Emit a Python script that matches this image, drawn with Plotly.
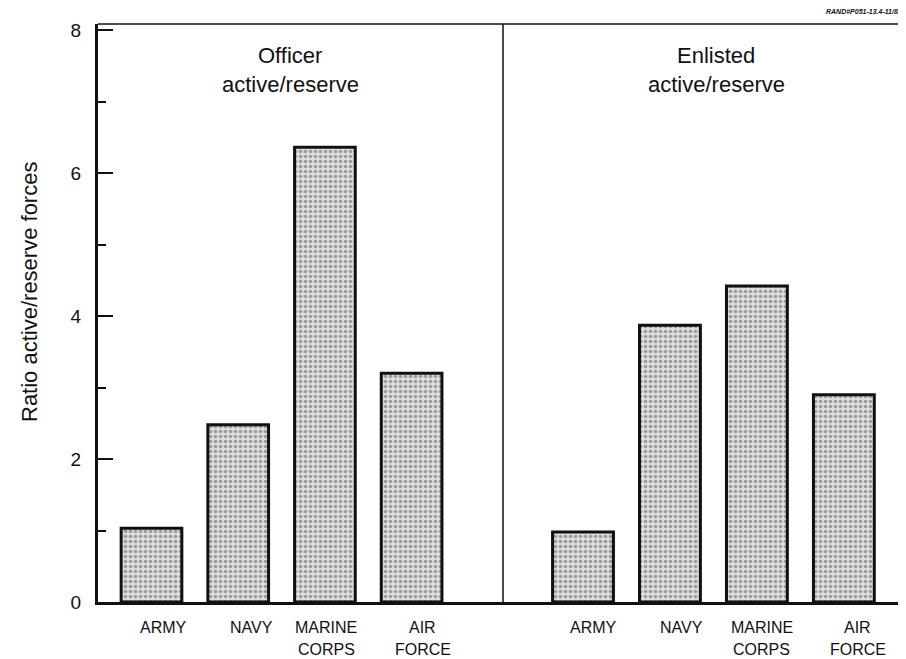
import plotly.graph_objects as go

# ---- data ----
categories = ["ARMY", "NAVY", "MARINE CORPS", "AIR FORCE"]
officer_ratio = [1.03, 2.48, 6.36, 3.20]
enlisted_ratio = [0.98, 3.87, 4.42, 2.90]
y_ticks = [0, 2, 4, 6, 8]
officer_title = ["Officer", "active/reserve"]
enlisted_title = ["Enlisted", "active/reserve"]
y_title = "Ratio active/reserve forces"
stamp = "RAND#P051-13.4-11/82"

# ---- layout helpers (positions, not data) ----
OFF = 8                                   # page body margin
W, H = 906 - OFF, 659 - OFF
L, R, T, B = 98 - OFF, 3, 24 - OFF, 57
PW = W - L - R
PH = H - T - B
split = (503 - 98) / PW                   # paper x of divider
officer_label_pos = [0.133, 1.148, 2.013, 3.131]
enlisted_label_pos = [0.126, 1.137, 2.057, 3.160]

FONT = "Liberation Sans, Arial, Helvetica, sans-serif"

def px_x(px):
    return (px - 98) / PW

def px_y(py):
    return (602 - py) / PH

bar_marker = dict(
    color="#d0d0d0",
    line=dict(color="#111111", width=3),
    pattern=dict(shape=".", fgcolor="#575757", bgcolor="#dedede",
                 size=5, solidity=0.42),
)

fig = go.Figure()
fig.add_trace(go.Bar(x=list(range(len(categories))), y=officer_ratio,
                     width=0.70, marker=bar_marker, xaxis="x", yaxis="y",
                     showlegend=False, hoverinfo="y"))
fig.add_trace(go.Bar(x=list(range(len(categories))), y=enlisted_ratio,
                     width=0.70, marker=bar_marker, xaxis="x2", yaxis="y",
                     showlegend=False, hoverinfo="y"))

axis_common = dict(showline=True, linecolor="#111111", linewidth=3,
                   showgrid=False, zeroline=False, showticklabels=False,
                   ticks="", fixedrange=True)
fig.update_layout(
    width=W, height=H,
    margin=dict(l=L, r=R, t=T, b=B, pad=0),
    paper_bgcolor="white", plot_bgcolor="white",
    font=dict(family=FONT, color="#111111"),
    xaxis=dict(domain=[0, split], range=[-0.617, 4.054], anchor="y", **axis_common),
    xaxis2=dict(domain=[split, 1], range=[-0.92, 3.68], anchor="y", **axis_common),
    yaxis=dict(range=[0, 8.084], tickvals=y_ticks, ticks="inside", ticklen=15,
               tickwidth=1.5, tickcolor="#111111", showline=True,
               linecolor="#111111", linewidth=3, showgrid=False, zeroline=False,
               tickfont=dict(size=19, family=FONT, color="#111111"),
               ticklabelstandoff=10, fixedrange=True,
               minor=dict(ticks="inside", ticklen=8, tickwidth=1.5,
                          tickcolor="#111111", tick0=0, dtick=1, showgrid=False)),
    shapes=[
        dict(type="line", xref="paper", yref="paper", x0=0, x1=1, y0=1, y1=1,
             line=dict(color="#111111", width=1.5)),
        dict(type="line", xref="paper", yref="paper", x0=1, x1=1, y0=0, y1=1,
             line=dict(color="#111111", width=1.5)),
        dict(type="line", xref="paper", yref="paper", x0=split, x1=split, y0=0, y1=1,
             line=dict(color="#111111", width=1.5)),
    ],
)

annotations = []
# category labels (one line per word)
for xref, positions in (("x", officer_label_pos), ("x2", enlisted_label_pos)):
    for cat, xpos in zip(categories, positions):
        for j, word in enumerate(cat.split(" ")):
            annotations.append(dict(
                x=xpos, xref=xref, y=0, yref="paper", yanchor="middle",
                yshift=-25 - 22 * j, text=word, showarrow=False,
                font=dict(size=16, family=FONT, color="#111111")))

# panel titles
for lines, cx in ((officer_title, 290), (enlisted_title, 716)):
    for j, line in enumerate(lines):
        annotations.append(dict(
            x=px_x(cx), xref="paper", y=px_y(55 + 29 * j), yref="paper",
            xanchor="center", yanchor="middle", text=line, showarrow=False,
            font=dict(size=22, family=FONT, color="#111111")))

# y-axis title
annotations.append(dict(
    x=px_x(29), xref="paper", y=px_y(292), yref="paper", textangle=-90,
    xanchor="center", yanchor="middle", text=y_title, showarrow=False,
    font=dict(size=22, family=FONT, color="#111111")))

# stamp
annotations.append(dict(
    x=px_x(904), xref="paper", y=px_y(12), yref="paper", xanchor="right",
    yanchor="middle", text="<b><i>" + stamp + "</i></b>", showarrow=False,
    font=dict(size=7, family=FONT, color="#111111")))

fig.update_layout(annotations=annotations)
fig.write_html("out.html")
